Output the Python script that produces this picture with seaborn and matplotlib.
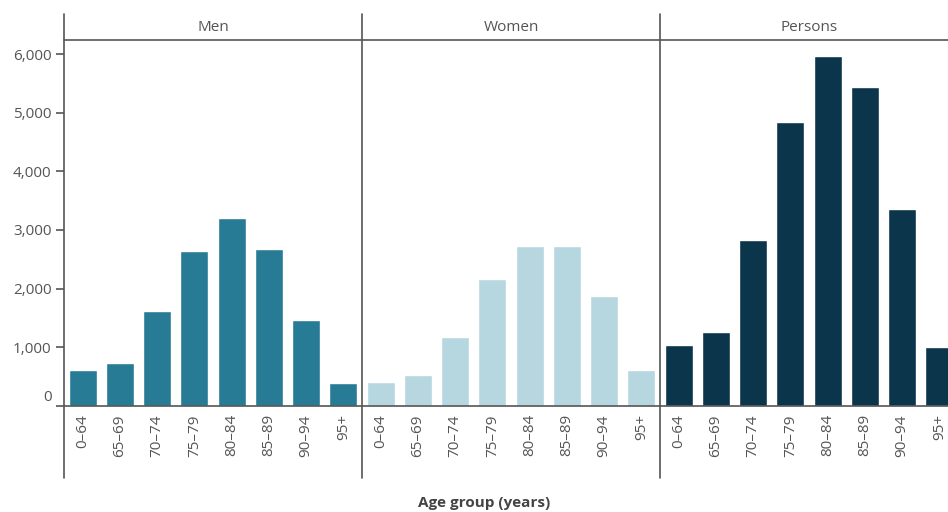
import matplotlib
matplotlib.use("Agg")
import matplotlib.pyplot as plt
import matplotlib.lines as mlines
from matplotlib.transforms import ScaledTranslation
import pandas as pd
import seaborn as sns

# Datos
age_groups = ["0–64", "65–69", "70–74", "75–79", "80–84", "85–89", "90–94", "95+"]
men = [610, 735, 1620, 2640, 3200, 2680, 1465, 380]
women = [412, 520, 1175, 2170, 2730, 2730, 1876, 615]
persons = [1030, 1263, 2820, 4836, 5960, 5444, 3362, 1007]
panels = ["Men", "Women", "Persons"]
colores = ["#287B95", "#B6D6E0", "#0B354B"]

df = pd.DataFrame({
    "age": age_groups * 3,
    "sex": ["Men"] * 8 + ["Women"] * 8 + ["Persons"] * 8,
    "count": men + women + persons,
})

sns.set_style("white")
plt.rcParams["font.family"] = ["Open Sans", "DejaVu Sans"]
gris = "#555555"
fs = 11

W, H = 948, 512
g = sns.catplot(data=df, x="age", y="count", col="sex", hue="sex",
                kind="bar", palette=colores, col_order=panels, order=age_groups,
                sharey=True, legend=False, width=0.75, saturation=1,
                height=H / 100, aspect=1, errorbar=None)
g.figure.set_size_inches(W / 100, H / 100)

y0 = 405.7      # pixel del cero
px1000 = 58.6   # pixeles por 1000
ytop = (y0 - 14) / px1000 * 1000
g.figure.subplots_adjust(left=64 / W, right=958 / W, bottom=(H - y0) / H,
                         top=(H - 14) / H, wspace=0)

for ax, name in zip(g.axes.flat, panels):
    ax.set_ylim(0, ytop)
    ax.set_xlim(-0.5, 7.5)
    ax.set_title("")
    ax.set_xlabel("")
    ax.set_ylabel("")
    for s in ["top", "right", "left"]:
        ax.spines[s].set_visible(False)
    ax.spines["bottom"].set_color(gris)
    ax.spines["bottom"].set_linewidth(1.2)
    # etiquetas en los centros, marcas entre barras
    ax.set_xticks(range(8))
    ax.set_xticklabels(age_groups, rotation=90, color=gris, fontsize=fs)
    ax.set_xticks([i + 0.5 for i in range(7)], minor=True)
    ax.tick_params(axis="x", which="major", length=0, pad=6)
    ax.tick_params(axis="x", which="minor", length=6, width=1.2, color=gris)
    ax.axhline((y0 - 40) / px1000 * 1000, color=gris, lw=1.2, clip_on=False)
    ax.text(3.5, (y0 - 28) / px1000 * 1000, name, ha="center", va="center",
            color=gris, fontsize=fs)

ax0 = g.axes.flat[0]
ax0.set_yticks([0, 1000, 2000, 3000, 4000, 5000, 6000])
ax0.set_yticklabels(["0", "1,000", "2,000", "3,000", "4,000", "5,000", "6,000"],
                    color=gris, fontsize=fs)
ax0.tick_params(axis="y", length=6, width=1.2, color=gris, left=True, pad=3)
# el "0" va un poco por encima de la linea base
lab0 = ax0.get_yticklabels()[0]
lab0.set_transform(lab0.get_transform() +
                   ScaledTranslation(0, 10 / 100, g.figure.dpi_scale_trans))
for ax in g.axes.flat[1:]:
    ax.tick_params(axis="y", left=False, labelleft=False)

# separadores verticales entre paneles
for x in [64, 362, 660]:
    g.figure.add_artist(mlines.Line2D([x / W, x / W], [1 - 14 / H, 1 - 478 / H],
                                      color=gris, lw=1.2))

g.figure.text(484 / W, 1 - 503 / H, "Age group (years)", ha="center", va="center",
              fontsize=fs, fontweight="bold", color="#444444")

g.figure.savefig("out.png", dpi=100)
